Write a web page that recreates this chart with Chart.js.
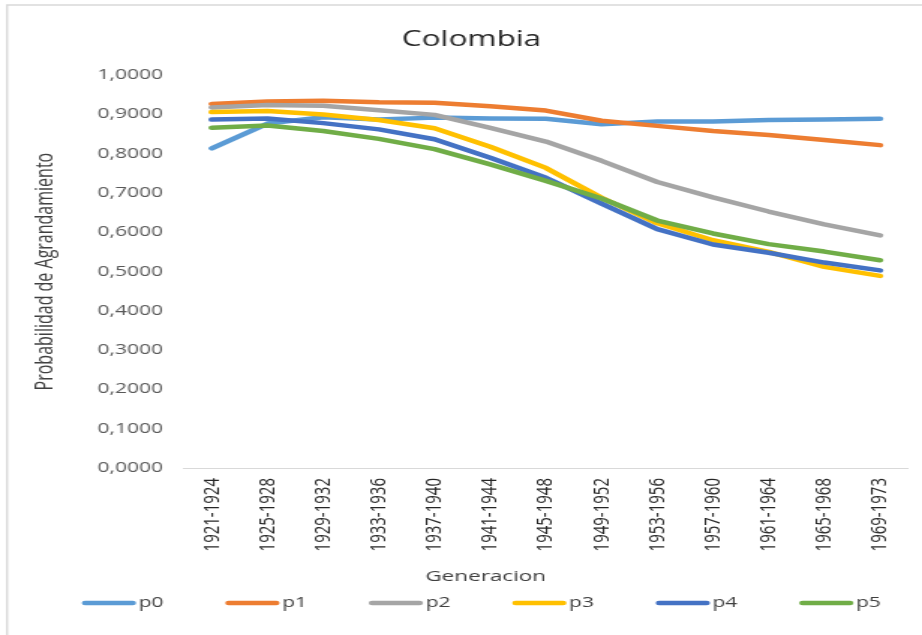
<!DOCTYPE html>
<html>
<head>
<meta charset="utf-8">
<script src="https://cdn.jsdelivr.net/npm/chart.js@4.4.1/dist/chart.umd.min.js"></script>
<style>
  html, body { margin: 0; padding: 0; background: #fff; overflow: hidden; }
  #chart { display: block; }
</style>
</head>
<body>
<!-- drawn on a narrower canvas and widened to the page by its inline size -->
<canvas id="chart" width="615" height="635" style="width:922px;height:635px"></canvas>
<script>
// Birth cohorts (x axis)
const generaciones = [
  '1921-1924', '1925-1928', '1929-1932', '1933-1936', '1937-1940',
  '1941-1944', '1945-1948', '1949-1952', '1953-1956', '1957-1960',
  '1961-1964', '1965-1968', '1969-1973'
];

// Parity progression probabilities per cohort
const p0 = [0.814, 0.877, 0.893, 0.887, 0.892, 0.890, 0.889, 0.875, 0.882, 0.882, 0.886, 0.887, 0.889];
const p1 = [0.927, 0.933, 0.935, 0.931, 0.930, 0.921, 0.910, 0.884, 0.871, 0.858, 0.848, 0.835, 0.822];
const p2 = [0.918, 0.924, 0.922, 0.911, 0.899, 0.866, 0.831, 0.782, 0.728, 0.689, 0.653, 0.620, 0.592];
const p3 = [0.906, 0.909, 0.900, 0.886, 0.865, 0.818, 0.764, 0.688, 0.623, 0.580, 0.550, 0.512, 0.489];
const p4 = [0.887, 0.890, 0.878, 0.862, 0.837, 0.790, 0.739, 0.673, 0.608, 0.569, 0.548, 0.523, 0.503];
const p5 = [0.866, 0.872, 0.858, 0.838, 0.812, 0.773, 0.731, 0.686, 0.630, 0.597, 0.570, 0.551, 0.529];

const seriesNames = ['p0', 'p1', 'p2', 'p3', 'p4', 'p5'];
const seriesData = [p0, p1, p2, p3, p4, p5];
const seriesColors = ['#5B9BD5', '#ED7D31', '#A5A5A5', '#FFC000', '#4472C4', '#70AD47'];

const FONT = "'Open Sans', sans-serif";

// Light frame around the chart
const framePlugin = {
  id: 'frame',
  beforeDraw(chart) {
    const ctx = chart.ctx;
    ctx.save();
    ctx.fillStyle = '#fff';
    ctx.fillRect(0, 0, chart.width, chart.height);
    ctx.strokeStyle = '#d9d9d9';
    ctx.lineWidth = 1.4;
    ctx.beginPath();
    ctx.moveTo(4.7, chart.height);
    ctx.lineTo(4.7, 5);
    ctx.lineTo(chart.width, 5);
    ctx.stroke();
    ctx.restore();
  }
};

// Horizontal axis caption and the series key underneath it
const bottomTextPlugin = {
  id: 'bottomText',
  afterDraw(chart) {
    const ctx = chart.ctx;
    ctx.save();
    ctx.font = '15px ' + FONT;
    ctx.fillStyle = '#404040';
    ctx.textAlign = 'center';
    ctx.textBaseline = 'middle';
    ctx.fillText('Generacion', 324, 577);

    const y = 603;
    const step = 95.7;
    const lineLen = 34.7;
    ctx.font = '14px ' + FONT;
    ctx.textAlign = 'left';
    ctx.lineCap = 'round';
    ctx.lineWidth = 4.5;
    chart.data.datasets.forEach((ds, i) => {
      const x0 = 55.3 + step * i;
      ctx.strokeStyle = ds.borderColor;
      ctx.beginPath();
      ctx.moveTo(x0 + 1.5, y);
      ctx.lineTo(x0 + lineLen - 1.5, y);
      ctx.stroke();
      ctx.fillStyle = '#404040';
      ctx.fillText(ds.label, x0 + lineLen + 2.5, y);
    });
    ctx.restore();
  }
};

const datasets = seriesNames.map((name, i) => ({
  label: name,
  data: seriesData[i],
  borderColor: seriesColors[i],
  backgroundColor: seriesColors[i],
  borderWidth: 4.5,
  pointRadius: 0,
  tension: 0,
  borderCapStyle: 'round',
  borderJoinStyle: 'round',
  order: seriesNames.length - i
}));

new Chart(document.getElementById('chart'), {
  type: 'line',
  data: { labels: generaciones, datasets },
  plugins: [framePlugin, bottomTextPlugin],
  options: {
    responsive: false,
    animation: false,
    devicePixelRatio: 1,
    layout: { padding: { left: 14, top: 0, right: 0, bottom: 79 } },
    plugins: {
      title: {
        display: true,
        text: 'Colombia',
        color: '#262626',
        font: { family: FONT, size: 21, weight: 'normal' },
        padding: { top: 27, bottom: 23 }
      },
      legend: { display: false },
      tooltip: { enabled: false }
    },
    scales: {
      x: {
        offset: true,
        grid: { display: false, drawTicks: false },
        border: { display: true, color: '#d9d9d9', width: 1 },
        ticks: {
          autoSkip: false,
          minRotation: 90,
          maxRotation: 90,
          padding: 10,
          color: '#262626',
          font: { family: FONT, size: 15 }
        },
        afterFit(scale) { scale.height = 88; }
      },
      y: {
        min: 0,
        max: 1,
        grid: { display: false, drawTicks: false },
        border: { display: false },
        ticks: {
          stepSize: 0.1,
          padding: 14,
          color: '#595959',
          font: { family: FONT, size: 14 },
          callback: v => Number(v).toFixed(4).replace('.', ',')
        },
        title: {
          display: true,
          text: 'Probabilidad de Agrandamiento',
          color: '#404040',
          font: { family: FONT, size: 16 },
          padding: { top: 6.4, bottom: 0 }
        },
        afterFit(scale) { scale.width = 108.7; }
      }
    }
  }
});
</script>
</body>
</html>
